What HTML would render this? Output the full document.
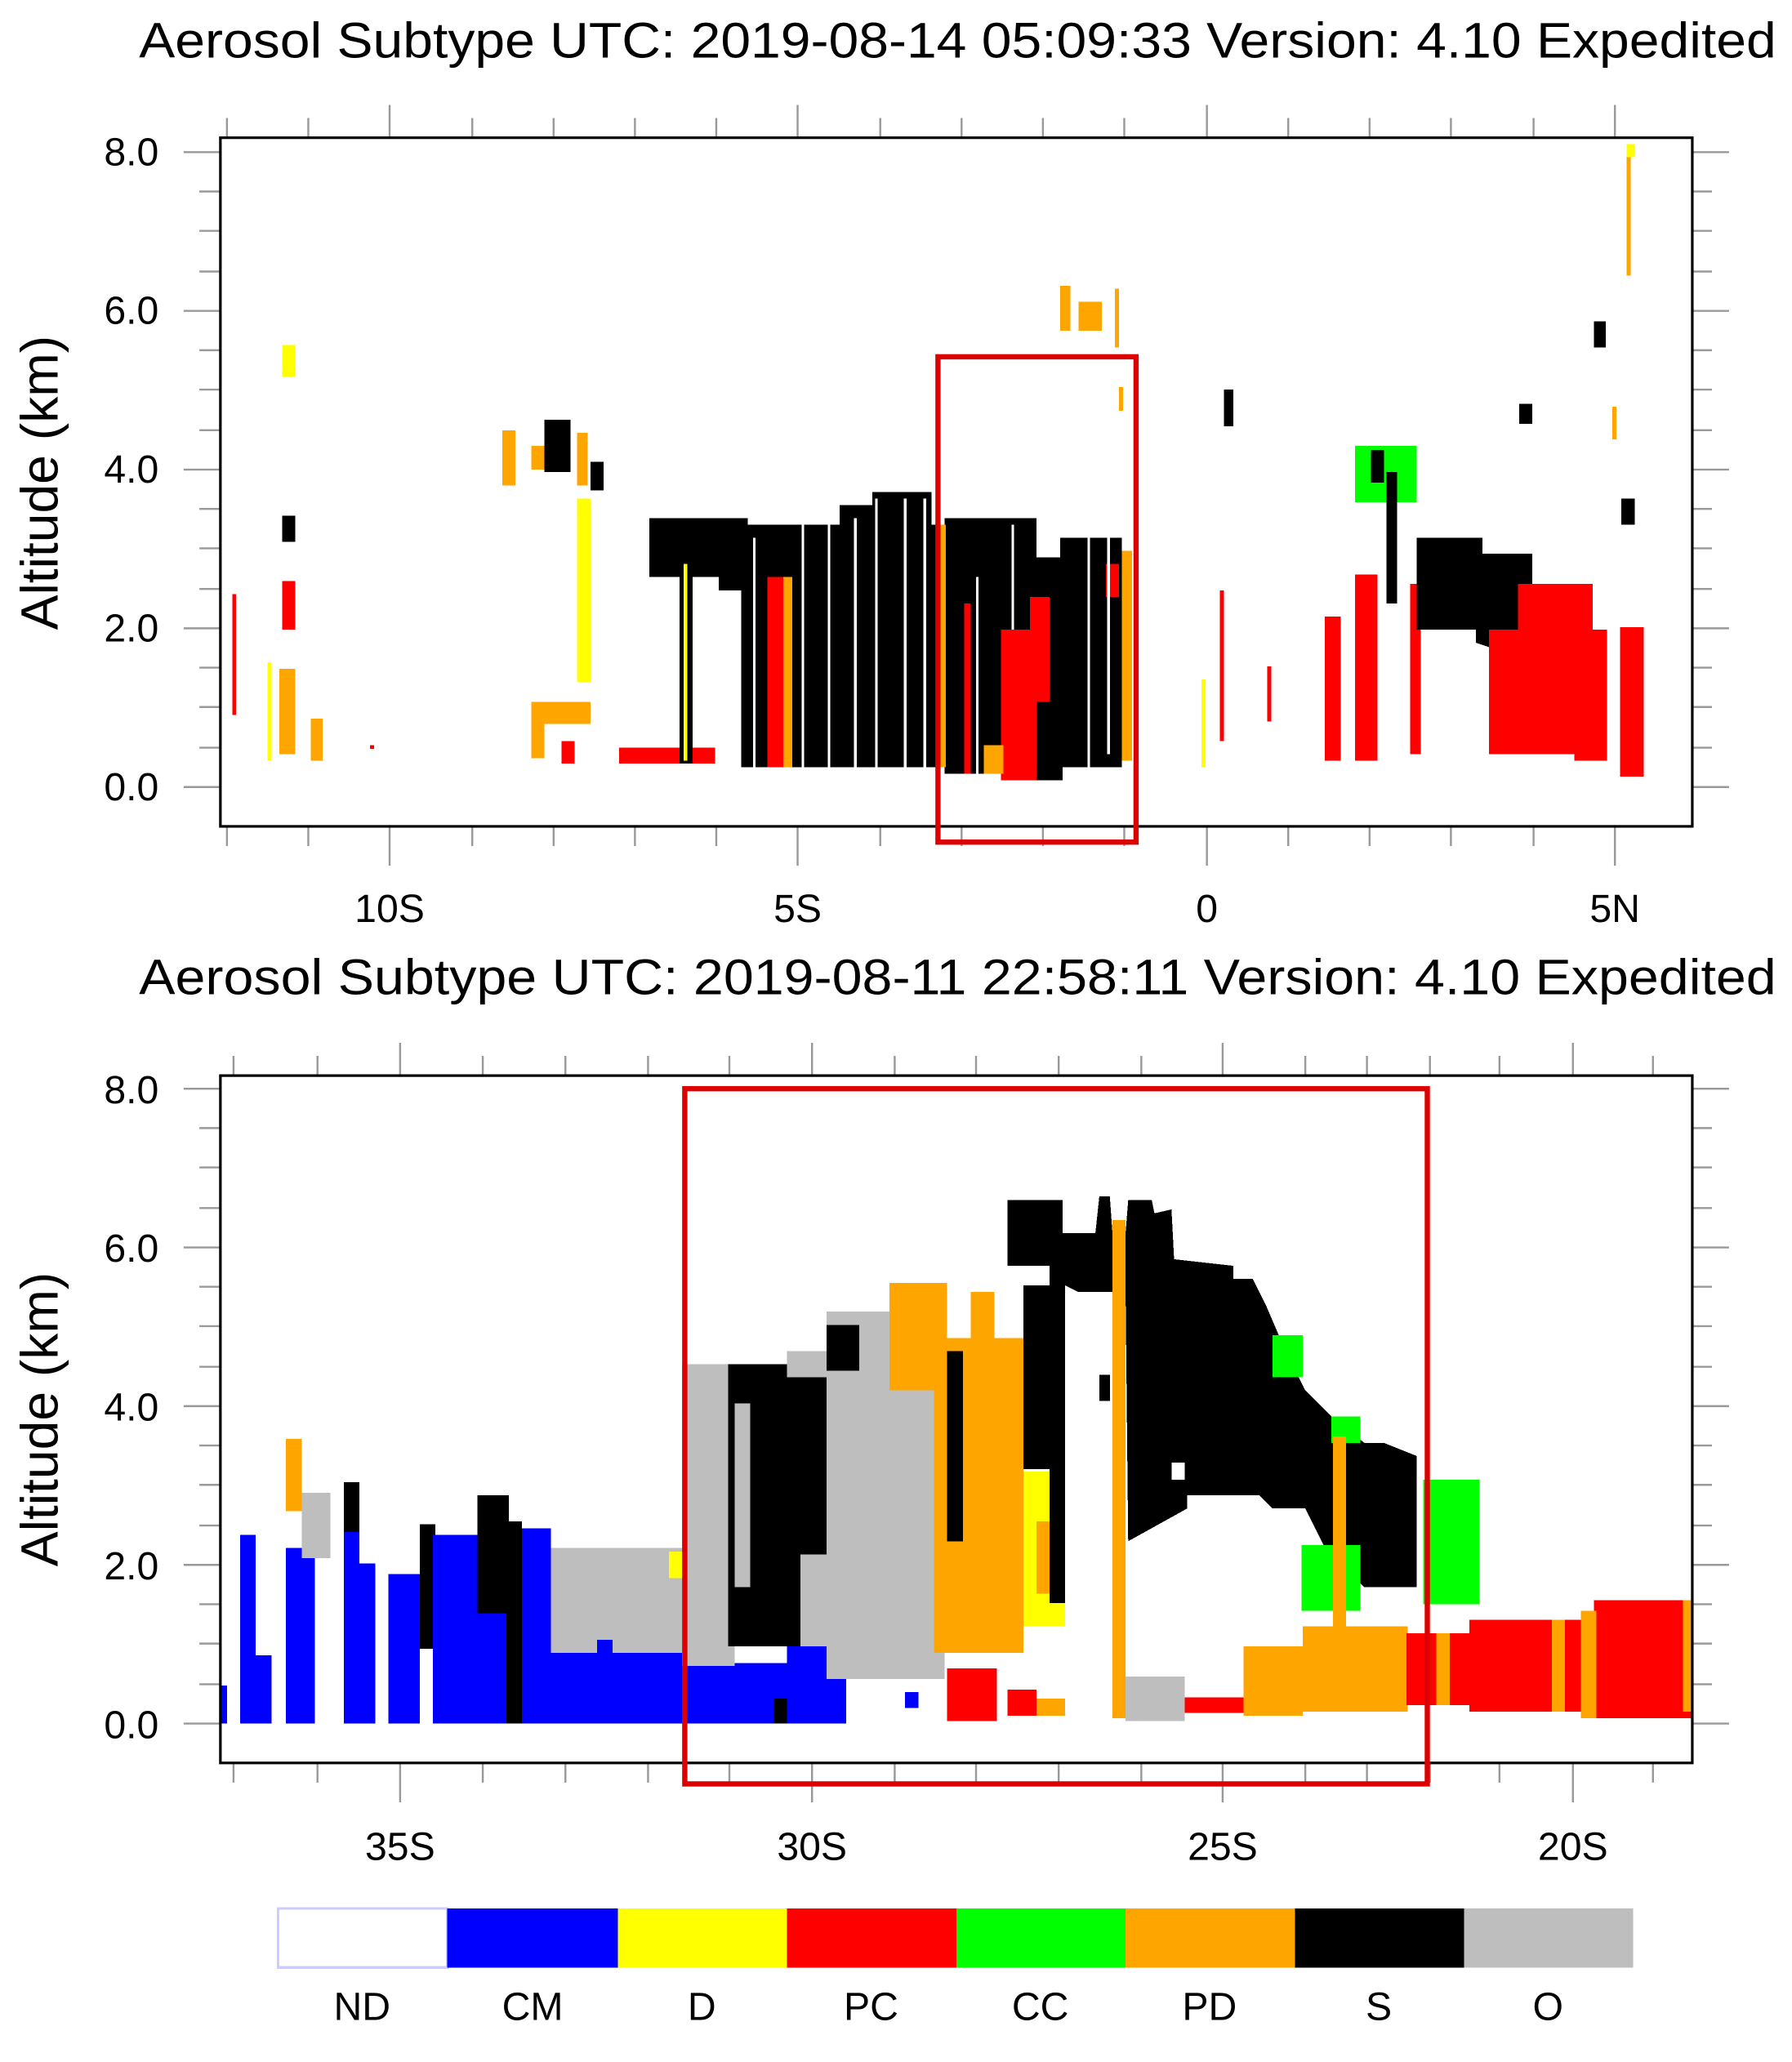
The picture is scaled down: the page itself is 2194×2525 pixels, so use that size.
<!DOCTYPE html>
<html><head><style>html,body{margin:0;padding:0;background:#fff}svg{display:block}</style></head><body>
<svg width="2194" height="2525" viewBox="0 0 1366 1572" xmlns="http://www.w3.org/2000/svg" font-family="Liberation Sans, sans-serif" preserveAspectRatio="none">
<rect width="1366" height="1572" fill="#fff"/>
<text x="106" y="44" font-size="38" textLength="1248" lengthAdjust="spacingAndGlyphs">Aerosol Subtype UTC: 2019-08-14 05:09:33 Version: 4.10 Expedited</text>
<text x="106" y="758" font-size="38" textLength="1248" lengthAdjust="spacingAndGlyphs">Aerosol Subtype UTC: 2019-08-11 22:58:11 Version: 4.10 Expedited</text>
<!-- TOP PLOT DATA -->
<g shape-rendering="crispEdges">
<rect x="215" y="263" width="10" height="24" fill="#ff0"/>
<rect x="215" y="393" width="10" height="20" fill="#000"/>
<rect x="215" y="443" width="10" height="37" fill="#f00"/>
<rect x="213" y="510" width="12" height="65" fill="#ffa500"/>
<rect x="237" y="548" width="9" height="32" fill="#ffa500"/>
<rect x="177" y="453" width="3" height="92" fill="#f00"/>
<rect x="204" y="505" width="3" height="75" fill="#ff0"/>
<rect x="383" y="328" width="10" height="42" fill="#ffa500"/>
<rect x="405" y="340" width="15" height="18" fill="#ffa500"/>
<rect x="415" y="320" width="20" height="40" fill="#000"/>
<rect x="440" y="330" width="8" height="40" fill="#ffa500"/>
<rect x="450" y="352" width="10" height="22" fill="#000"/>
<rect x="440" y="380" width="10" height="140" fill="#ff0"/>
<rect x="405" y="535" width="45" height="17" fill="#ffa500"/>
<rect x="405" y="550" width="10" height="28" fill="#ffa500"/>
<rect x="428" y="565" width="10" height="17" fill="#f00"/>
<rect x="472" y="570" width="73" height="12" fill="#f00"/>
<rect x="495" y="395" width="75" height="45" fill="#000"/>
<rect x="518" y="420" width="10" height="162" fill="#000"/>
<rect x="521" y="430" width="3" height="150" fill="#ff0"/>
<rect x="548" y="400" width="30" height="50" fill="#000"/>
<rect x="565" y="400" width="155" height="185" fill="#000"/>
<rect x="585" y="440" width="12" height="145" fill="#f00"/>
<rect x="597" y="440" width="7" height="145" fill="#ffa500"/>
<rect x="640" y="385" width="70" height="20" fill="#000"/>
<rect x="665" y="375" width="45" height="15" fill="#000"/>
<rect x="720" y="395" width="70" height="105" fill="#000"/>
<rect x="720" y="495" width="45" height="95" fill="#000"/>
<rect x="715" y="400" width="6" height="185" fill="#ffa500"/>
<rect x="735" y="460" width="5" height="130" fill="#f00"/>
<rect x="763" y="480" width="37" height="115" fill="#f00"/>
<rect x="790" y="425" width="20" height="170" fill="#000"/>
<rect x="785" y="455" width="15" height="80" fill="#f00"/>
<rect x="808" y="410" width="47" height="175" fill="#000"/>
<rect x="843" y="430" width="10" height="25" fill="#f00"/>
<rect x="855" y="420" width="8" height="160" fill="#ffa500"/>
<rect x="750" y="568" width="15" height="22" fill="#ffa500"/>
<g stroke="#fff" stroke-width="2">
<line x1="575" y1="410" x2="575" y2="585"/><line x1="612" y1="400" x2="612" y2="585"/><line x1="632" y1="400" x2="632" y2="585"/><line x1="652" y1="395" x2="652" y2="585"/><line x1="668" y1="380" x2="668" y2="585"/><line x1="690" y1="380" x2="690" y2="585"/><line x1="705" y1="380" x2="705" y2="585"/><line x1="745" y1="440" x2="745" y2="590"/><line x1="772" y1="400" x2="772" y2="480"/><line x1="830" y1="410" x2="830" y2="590"/><line x1="845" y1="410" x2="845" y2="575"/>
</g>
<rect x="808" y="218" width="8" height="34" fill="#ffa500"/>
<rect x="822" y="230" width="18" height="22" fill="#ffa500"/>
<rect x="850" y="220" width="3" height="45" fill="#ffa500"/>
<rect x="853" y="295" width="3" height="18" fill="#ffa500"/>
<rect x="933" y="297" width="7" height="28" fill="#000"/>
<rect x="1158" y="308" width="10" height="15" fill="#000"/>
<rect x="1215" y="245" width="9" height="20" fill="#000"/>
<rect x="1236" y="380" width="10" height="20" fill="#000"/>
<rect x="1240" y="110" width="3" height="100" fill="#ffa500"/>
<rect x="1240" y="110" width="6" height="10" fill="#ff0"/>
<rect x="1229" y="310" width="3" height="25" fill="#ffa500"/>
<rect x="1033" y="340" width="47" height="43" fill="#0f0"/>
<rect x="1045" y="343" width="10" height="25" fill="#000"/>
<rect x="1057" y="360" width="8" height="100" fill="#000"/>
<rect x="1010" y="470" width="12" height="110" fill="#f00"/>
<rect x="1033" y="438" width="17" height="142" fill="#f00"/>
<rect x="1075" y="445" width="8" height="130" fill="#f00"/>
<rect x="1080" y="410" width="50" height="40" fill="#000"/>
<rect x="1080" y="440" width="70" height="40" fill="#000"/>
<rect x="1125" y="422" width="43" height="35" fill="#000"/>
<polygon points="1125,450 1168,450 1165,480 1140,495 1125,490" fill="#000"/>
<rect x="1135" y="480" width="25" height="95" fill="#f00"/>
<rect x="1157" y="445" width="57" height="130" fill="#f00"/>
<rect x="1200" y="480" width="25" height="100" fill="#f00"/>
<rect x="1235" y="478" width="18" height="114" fill="#f00"/>
<rect x="930" y="450" width="3" height="115" fill="#f00"/>
<rect x="966" y="508" width="3" height="42" fill="#f00"/>
<rect x="916" y="518" width="3" height="67" fill="#ff0"/>
<rect x="282" y="568" width="3" height="3" fill="#f00"/>
</g>
<!-- BOTTOM PLOT DATA -->
<g shape-rendering="crispEdges">
<rect x="168" y="1285" width="5" height="29" fill="#00f"/>
<rect x="183" y="1170" width="12" height="144" fill="#00f"/>
<rect x="195" y="1262" width="12" height="52" fill="#00f"/>
<rect x="218" y="1180" width="22" height="134" fill="#00f"/>
<rect x="218" y="1097" width="12" height="55" fill="#ffa500"/>
<rect x="230" y="1138" width="22" height="50" fill="#bebebe"/>
<rect x="262" y="1130" width="12" height="60" fill="#000"/>
<rect x="262" y="1168" width="12" height="146" fill="#00f"/>
<rect x="274" y="1192" width="12" height="122" fill="#00f"/>
<rect x="296" y="1200" width="24" height="114" fill="#00f"/>
<rect x="320" y="1162" width="12" height="95" fill="#000"/>
<rect x="330" y="1170" width="90" height="144" fill="#00f"/>
<rect x="364" y="1140" width="24" height="90" fill="#000"/>
<rect x="386" y="1160" width="12" height="154" fill="#000"/>
<rect x="398" y="1165" width="22" height="149" fill="#00f"/>
<rect x="420" y="1180" width="100" height="134" fill="#00f"/>
<rect x="420" y="1180" width="100" height="80" fill="#bebebe"/>
<rect x="455" y="1250" width="12" height="64" fill="#00f"/>
<rect x="510" y="1183" width="10" height="20" fill="#ff0"/>
<rect x="520" y="1268" width="80" height="46" fill="#00f"/>
<rect x="600" y="1250" width="45" height="64" fill="#00f"/>
<rect x="690" y="1290" width="10" height="12" fill="#00f"/>
<rect x="520" y="1040" width="40" height="230" fill="#bebebe"/>
<rect x="555" y="1040" width="95" height="215" fill="#000"/>
<rect x="600" y="1030" width="30" height="20" fill="#bebebe"/>
<rect x="560" y="1070" width="12" height="140" fill="#bebebe"/>
<rect x="610" y="1185" width="30" height="70" fill="#bebebe"/>
<rect x="630" y="1000" width="90" height="280" fill="#bebebe"/>
<rect x="630" y="1010" width="25" height="35" fill="#000"/>
<rect x="678" y="978" width="44" height="82" fill="#ffa500"/>
<rect x="712" y="1020" width="68" height="240" fill="#ffa500"/>
<rect x="740" y="985" width="18" height="40" fill="#ffa500"/>
<rect x="722" y="1030" width="12" height="145" fill="#000"/>
<rect x="780" y="1122" width="32" height="118" fill="#ff0"/>
<rect x="780" y="980" width="20" height="140" fill="#000"/>
<rect x="790" y="1160" width="12" height="55" fill="#ffa500"/>
<polygon points="768,915 810,915 810,940 835,940 838,912 846,912 848,940 858,940 860,915 878,915 880,925 893,922 895,960 940,965 940,975 955,975 965,995 980,1030 995,1060 1015,1080 1040,1100 1055,1100 1080,1110 1080,1210 1040,1210 1010,1180 995,1150 970,1150 960,1140 905,1140 905,1150 860,1175 858,985 822,985 812,980 812,1222 800,1222 800,965 768,965" fill="#000"/>
<rect x="893" y="1115" width="10" height="13" fill="#fff"/>
<rect x="838" y="1048" width="8" height="20" fill="#000"/>
<rect x="848" y="930" width="10" height="380" fill="#ffa500"/>
<rect x="970" y="1018" width="23" height="32" fill="#0f0"/>
<rect x="992" y="1178" width="45" height="50" fill="#0f0"/>
<rect x="1015" y="1080" width="22" height="20" fill="#0f0"/>
<rect x="1085" y="1128" width="43" height="95" fill="#0f0"/>
<rect x="1016" y="1095" width="10" height="150" fill="#ffa500"/>
<rect x="948" y="1255" width="45" height="53" fill="#ffa500"/>
<rect x="993" y="1240" width="80" height="65" fill="#ffa500"/>
<rect x="1072" y="1245" width="218" height="55" fill="#f00"/>
<rect x="1120" y="1235" width="100" height="70" fill="#f00"/>
<rect x="1215" y="1220" width="75" height="90" fill="#f00"/>
<rect x="1095" y="1245" width="10" height="55" fill="#ffa500"/>
<rect x="1183" y="1235" width="10" height="70" fill="#ffa500"/>
<rect x="1205" y="1228" width="12" height="82" fill="#ffa500"/>
<rect x="1283" y="1220" width="7" height="85" fill="#ffa500"/>
<rect x="858" y="1278" width="45" height="34" fill="#bebebe"/>
<rect x="903" y="1294" width="45" height="12" fill="#f00"/>
<rect x="722" y="1272" width="38" height="40" fill="#f00"/>
<rect x="768" y="1288" width="22" height="20" fill="#f00"/>
<rect x="790" y="1295" width="22" height="13" fill="#ffa500"/>
<rect x="590" y="1295" width="10" height="19" fill="#000"/>
</g>
<!-- AXES -->
<g stroke="#999" stroke-width="1.5">
<path d="M140 116H168M140 237H168M140 358H168M140 479H168M140 600H168M1290 116H1318M1290 237H1318M1290 358H1318M1290 479H1318M1290 600H1318"/>
<path d="M152 146H168M152 176H168M152 207H168M152 267H168M152 297H168M152 328H168M152 388H168M152 418H168M152 449H168M152 509H168M152 539H168M152 570H168M1290 146H1305M1290 176H1305M1290 207H1305M1290 267H1305M1290 297H1305M1290 328H1305M1290 388H1305M1290 418H1305M1290 449H1305M1290 509H1305M1290 539H1305M1290 570H1305"/>
<path d="M297 630V660M608 630V660M920 630V660M1231 630V660M297 80V105M608 80V105M920 80V105M1231 80V105"/>
<path d="M173 630V645M235 630V645M360 630V645M422 630V645M484 630V645M546 630V645M671 630V645M733 630V645M795 630V645M857 630V645M982 630V645M1044 630V645M1106 630V645M1169 630V645M173 90V105M235 90V105M360 90V105M422 90V105M484 90V105M546 90V105M671 90V105M733 90V105M795 90V105M857 90V105M982 90V105M1044 90V105M1106 90V105M1169 90V105"/>
<path d="M140 830H168M140 951H168M140 1072H168M140 1193H168M140 1314H168M1290 830H1318M1290 951H1318M1290 1072H1318M1290 1193H1318M1290 1314H1318"/>
<path d="M152 860H168M152 890H168M152 921H168M152 981H168M152 1011H168M152 1042H168M152 1102H168M152 1132H168M152 1163H168M152 1223H168M152 1253H168M152 1284H168M1290 860H1305M1290 890H1305M1290 921H1305M1290 981H1305M1290 1011H1305M1290 1042H1305M1290 1102H1305M1290 1132H1305M1290 1163H1305M1290 1223H1305M1290 1253H1305M1290 1284H1305"/>
<path d="M305 1344V1374M619 1344V1374M932 1344V1374M1199 1344V1374M305 795V820M619 795V820M932 795V820M1199 795V820"/>
<path d="M178 1344V1359M242 1344V1359M368 1344V1359M431 1344V1359M494 1344V1359M556 1344V1359M682 1344V1359M744 1344V1359M807 1344V1359M870 1344V1359M995 1344V1359M1042 1344V1359M1090 1344V1359M1143 1344V1359M1260 1344V1359M178 805V820M242 805V820M368 805V820M431 805V820M494 805V820M556 805V820M682 805V820M744 805V820M807 805V820M870 805V820M995 805V820M1042 805V820M1090 805V820M1143 805V820M1260 805V820"/>
</g>
<rect x="168" y="105" width="1122" height="525" fill="none" stroke="#000" stroke-width="2"/>
<rect x="168" y="820" width="1122" height="524" fill="none" stroke="#000" stroke-width="2"/>
<rect x="715" y="272" width="151" height="370" fill="none" stroke="#d00" stroke-width="4"/>
<rect x="522" y="830" width="566" height="530" fill="none" stroke="#d00" stroke-width="4"/>
<g font-size="30" text-anchor="end">
<text x="121" y="126">8.0</text><text x="121" y="247">6.0</text><text x="121" y="368">4.0</text><text x="121" y="489">2.0</text><text x="121" y="610">0.0</text>
<text x="121" y="841">8.0</text><text x="121" y="962">6.0</text><text x="121" y="1083">4.0</text><text x="121" y="1204">2.0</text><text x="121" y="1325">0.0</text>
</g>
<g font-size="30" text-anchor="middle">
<text x="297" y="703">10S</text><text x="608" y="703">5S</text><text x="920" y="703">0</text><text x="1231" y="703">5N</text>
<text x="305" y="1418">35S</text><text x="619" y="1418">30S</text><text x="932" y="1418">25S</text><text x="1199" y="1418">20S</text>
</g>
<text transform="translate(44,368) rotate(-90)" font-size="40" text-anchor="middle">Altitude (km)</text>
<text transform="translate(44,1082) rotate(-90)" font-size="40" text-anchor="middle">Altitude (km)</text>
<g shape-rendering="crispEdges">
<rect x="212" y="1455" width="129" height="45" fill="#fff" stroke="#ccf" stroke-width="2"/>
<rect x="341" y="1455" width="130" height="45" fill="#00f"/>
<rect x="471" y="1455" width="129" height="45" fill="#ff0"/>
<rect x="600" y="1455" width="129" height="45" fill="#f00"/>
<rect x="729" y="1455" width="129" height="45" fill="#0f0"/>
<rect x="858" y="1455" width="129" height="45" fill="#ffa500"/>
<rect x="987" y="1455" width="129" height="45" fill="#000"/>
<rect x="1116" y="1455" width="129" height="45" fill="#bebebe"/>
</g>
<g font-size="30" text-anchor="middle">
<text x="276" y="1540">ND</text><text x="406" y="1540">CM</text><text x="535" y="1540">D</text><text x="664" y="1540">PC</text><text x="793" y="1540">CC</text><text x="922" y="1540">PD</text><text x="1051" y="1540">S</text><text x="1180" y="1540">O</text>
</g>
</svg>
</body></html>
